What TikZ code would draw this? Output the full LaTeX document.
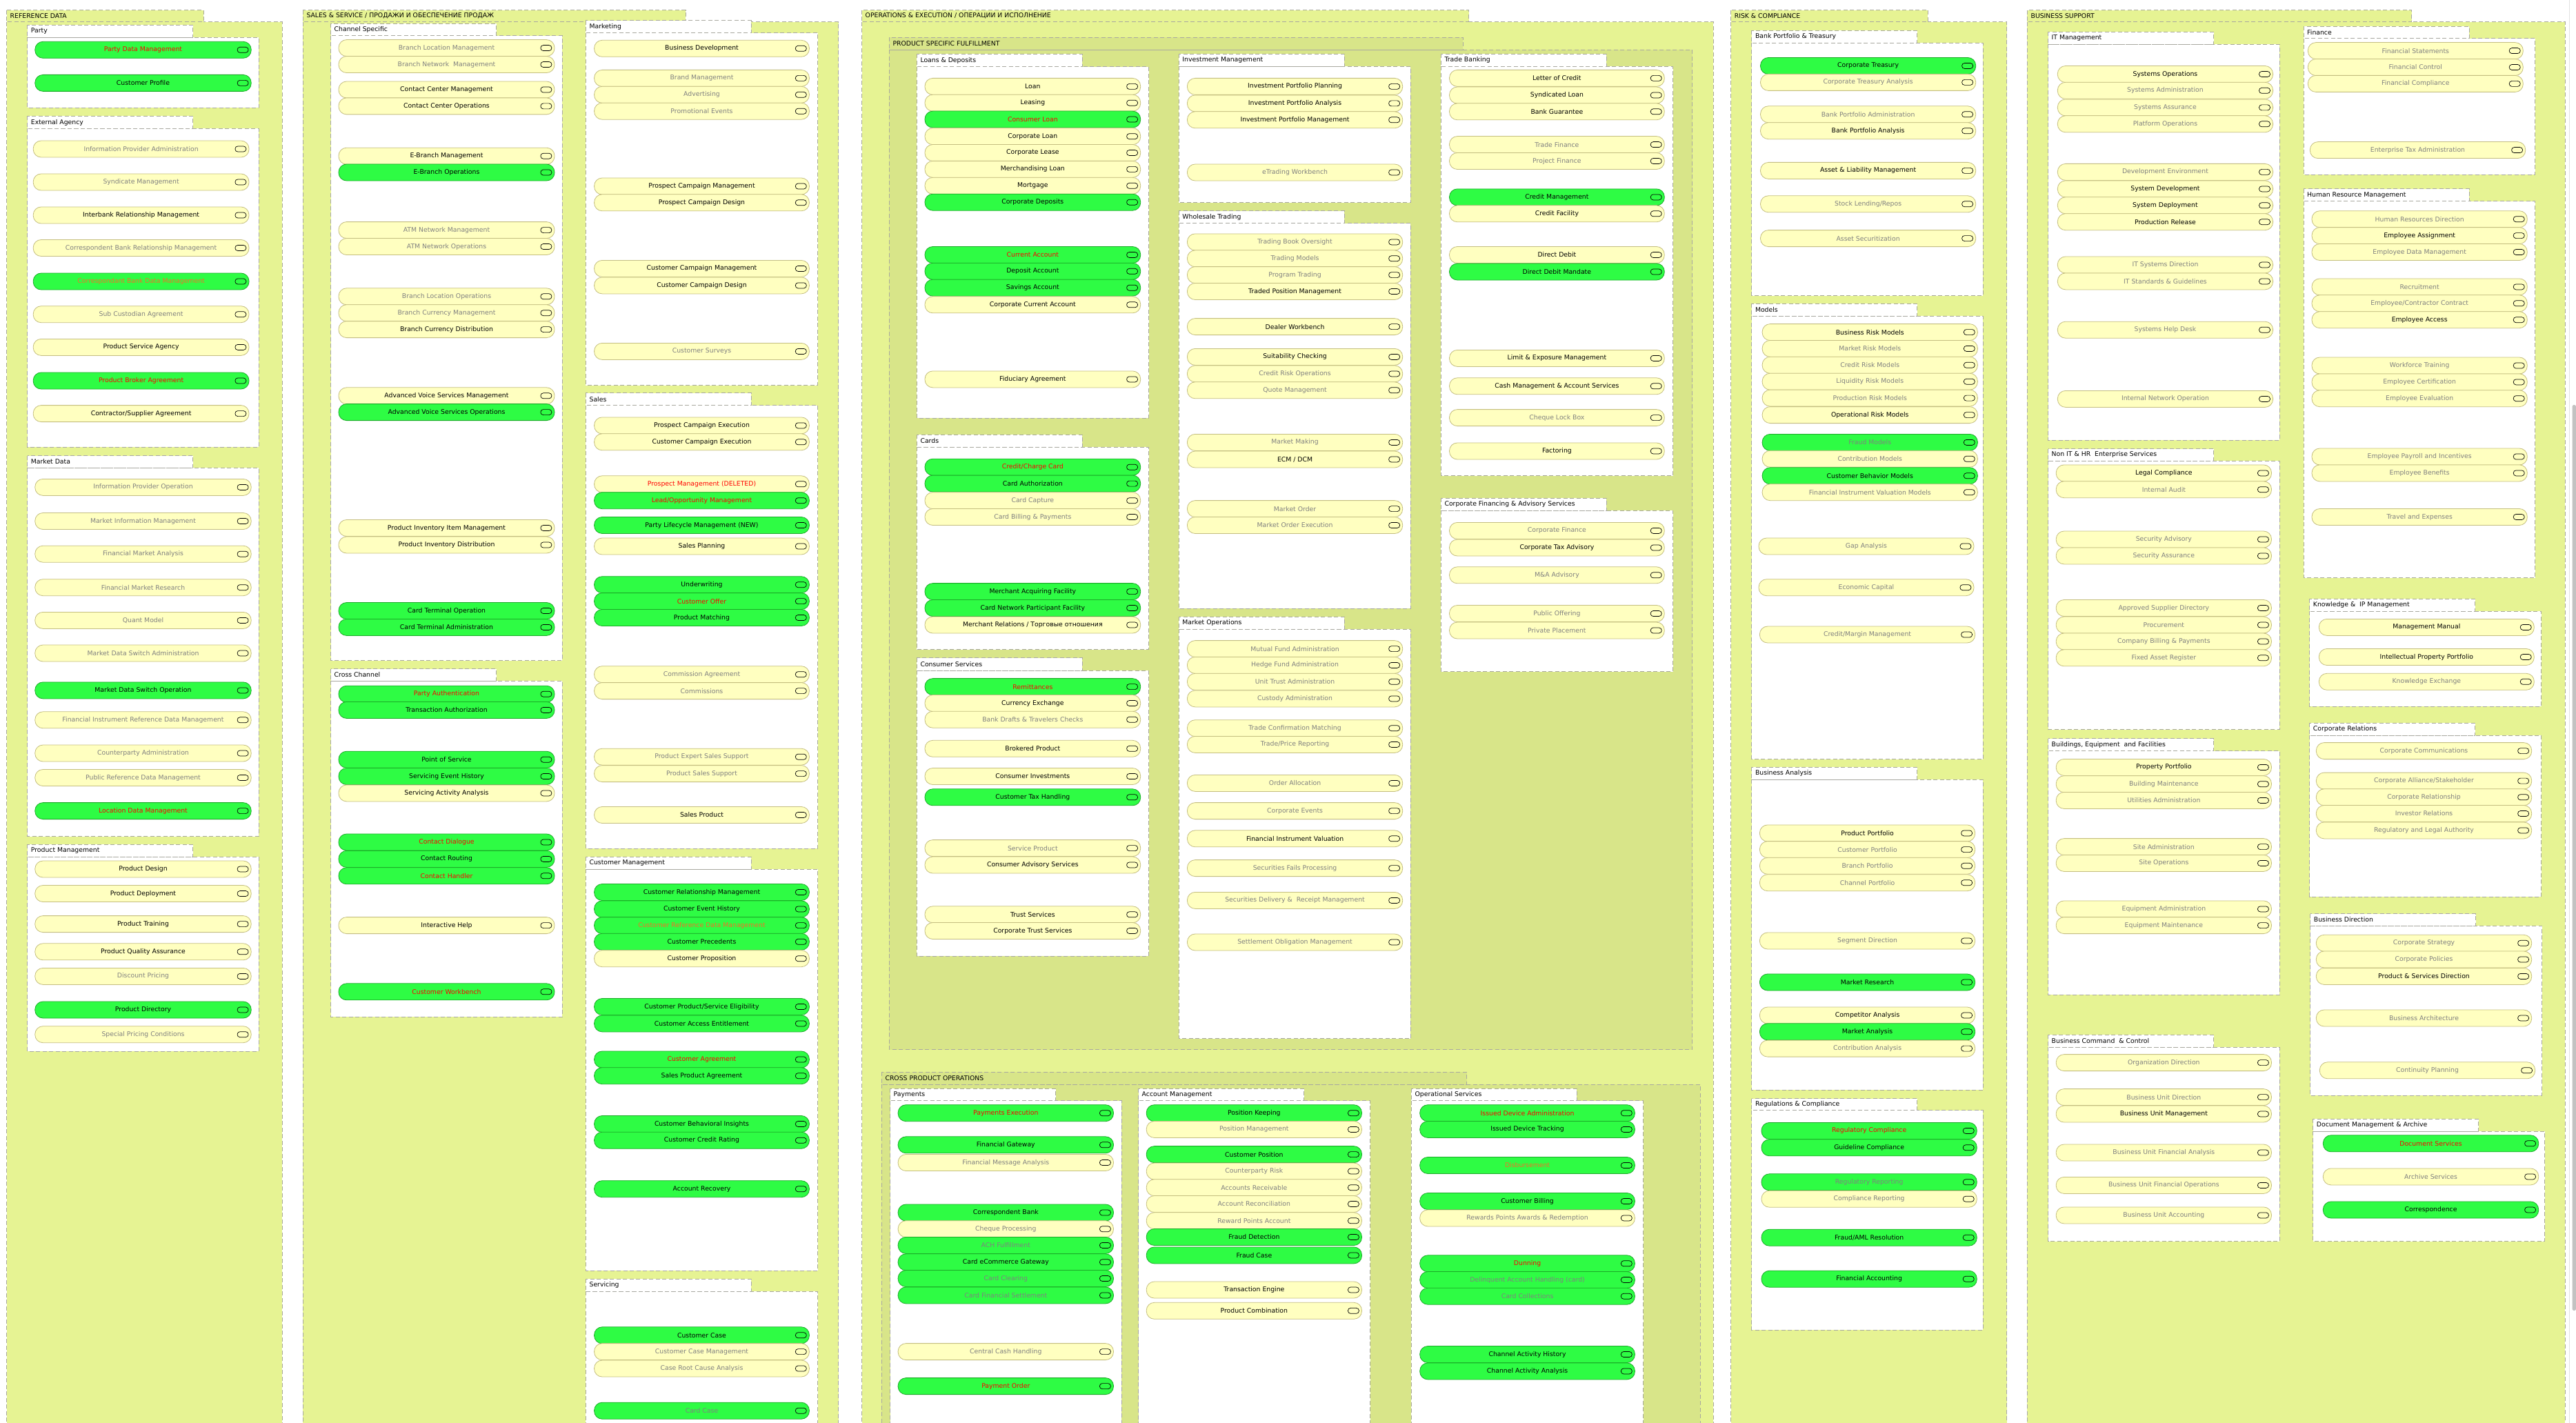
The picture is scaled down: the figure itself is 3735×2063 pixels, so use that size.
\documentclass[tikz,border=0pt]{standalone}
\usepackage{fontspec}
\setmainfont{DejaVu Sans}

\definecolor{grpfill}{RGB}{230,243,147}
\definecolor{subfill}{RGB}{216,229,137}
\definecolor{dashcol}{RGB}{168,168,160}
\definecolor{yfill}{RGB}{255,255,192}
\definecolor{yline}{RGB}{196,190,128}
\definecolor{gfill}{RGB}{46,252,68}
\definecolor{gline}{RGB}{28,170,40}
\definecolor{txtgray}{RGB}{128,128,128}
\definecolor{txtred}{RGB}{255,0,0}
\definecolor{txtorange}{RGB}{245,110,40}
\definecolor{scrollthumb}{RGB}{194,194,194}
\definecolor{scrolltrack}{RGB}{225,225,225}

\newcounter{fn}
\newcounter{pk}
\newcommand\labelfont{\fontsize{9.3}{11}\selectfont}

\tikzset{
  box/.style={draw=dashcol, line width=0.9pt, dash pattern=on 6pt off 3.5pt},
  boxtitle/.style={anchor=west, inner sep=0pt, font=\labelfont, text=black},
  func/.style={rectangle, rounded corners=11.5pt, line width=0.8pt,
               minimum height=24pt, inner sep=0pt, font=\labelfont},
  yk/.style={func, fill=yfill, draw=yline, text=black},
  yg/.style={func, fill=yfill, draw=yline, text=txtgray},
  yr/.style={func, fill=yfill, draw=yline, text=txtred},
  gk/.style={func, fill=gfill, draw=gline, text=black},
  gr/.style={func, fill=gfill, draw=gline, text=txtred},
  gg/.style={func, fill=gfill, draw=gline, text=txtgray},
  go/.style={func, fill=gfill, draw=gline, text=txtorange},
  icon/.style={draw=black, line width=0.7pt, rounded corners=3.8pt},
}

% package container: titled tab above a dashed body
% #1 left, #2 tab right, #3 right, #4 tab top, #5 tab bottom, #6 body bottom, #7 fill, #8 title
\newcommand\pkgbox[8]{%
  \stepcounter{pk}%
  \draw[box, fill=#7] (#1,#5) rectangle (#3,#6);
  \draw[box, fill=#7] (#1,#4) rectangle (#2,#5);
  \node[boxtitle] (pk\arabic{pk}) at ({#1+5},{(#4+#5)/2}) {#8};
}
% white sub-package with a 240 wide tab
% #1 left, #2 right, #3 tab top, #4 tab bottom, #5 body bottom, #6 title
\newcommand\subbox[6]{\pkgbox{#1}{#1+240}{#2}{#3}{#4}{#5}{white}{#6}}

% application function: rounded bar with the component glyph on its right end
\newcommand\setcols[2]{\def\cL{#1}\def\cR{#2}}
\newcommand\fitem[3]{%
  \stepcounter{fn}%
  \node[#2, minimum width={(\cR)-(\cL)}] (fn\arabic{fn}) at ({(\cL+\cR)/2},#1) {#3};
  \draw[icon] ([xshift=-20.5pt,yshift=-4pt]fn\arabic{fn}.east)
        rectangle ([xshift=-4.5pt,yshift=4pt]fn\arabic{fn}.east);
}

\begin{document}
\begin{tikzpicture}[x=1pt, y=-1pt]
\useasboundingbox (0,0) rectangle (3735,2063);
\clip (0,0) rectangle (3735,2063);
\fill[white] (0,0) rectangle (3735,2063);

% ---------------- REFERENCE DATA ----------------
\pkgbox{9.5}{295}{409}{14.6}{31.8}{2090}{grpfill}{REFERENCE DATA}
\subbox{39.7}{375}{36.5}{54.4}{156.5}{Party}
\setcols{50.8}{364.2}
\fitem{72.3}{gr}{Party Data Management}
\fitem{120.4}{gk}{Customer Profile}

\subbox{39.7}{375}{168.5}{186.4}{648}{External Agency}
\setcols{48.2}{361}
\fitem{216}{yg}{Information Provider Administration}
\fitem{264}{yg}{Syndicate Management}
\fitem{312}{yk}{Interbank Relationship Management}
\fitem{359.5}{yg}{Correspondent Bank Relationship Management}
\fitem{408}{go}{Correspondant Bank Data Management}
\fitem{455.7}{yg}{Sub Custodian Agreement}
\fitem{503.4}{yk}{Product Service Agency}
\fitem{552}{gr}{Product Broker Agreement}
\fitem{599.6}{yk}{Contractor/Supplier Agreement}

\subbox{39.7}{375}{660.6}{678}{1212.5}{Market Data}
\setcols{50.8}{364.2}
\fitem{706.4}{yg}{Information Provider Operation}
\fitem{755.5}{yg}{Market Information Management}
\fitem{803.2}{yg}{Financial Market Analysis}
\fitem{851.7}{yg}{Financial Market Research}
\fitem{899.4}{yg}{Quant Model}
\fitem{947}{yg}{Market Data Switch Administration}
\fitem{1000.9}{gk}{Market Data Switch Operation}
\fitem{1043.8}{yg}{Financial Instrument Reference Data Management}
\fitem{1092}{yg}{Counterparty Administration}
\fitem{1127.5}{yg}{Public Reference Data Management}
\fitem{1175.6}{gr}{Location Data Management}

\subbox{39.7}{375}{1224}{1242}{1524}{Product Management}
\fitem{1260}{yk}{Product Design}
\fitem{1295.5}{yk}{Product Deployment}
\fitem{1339.6}{yk}{Product Training}
\fitem{1379.8}{yk}{Product Quality Assurance}
\fitem{1415.4}{yg}{Discount Pricing}
\fitem{1464}{gk}{Product Directory}
\fitem{1499.7}{yg}{Special Pricing Conditions}

% ---------------- SALES & SERVICE ----------------
\pkgbox{439.3}{994}{1215.6}{14.6}{31.8}{2090}{grpfill}{SALES \& SERVICE / ПРОДАЖИ И ОБЕСПЕЧЕНИЕ ПРОДАЖ}
\subbox{479.5}{815}{34.5}{51.7}{957.8}{Channel Specific}
\setcols{491}{804}
\fitem{69.6}{yg}{Branch Location Management}
\fitem{93.5}{yg}{Branch Network\ \ Management}
\fitem{130}{yk}{Contact Center Management}
\fitem{153.9}{yk}{Contact Center Operations}
\fitem{226.2}{yk}{E-Branch Management}
\fitem{250}{gk}{E-Branch Operations}
\fitem{333.6}{yg}{ATM Network Management}
\fitem{357.5}{yg}{ATM Network Operations}
\fitem{429.8}{yg}{Branch Location Operations}
\fitem{453.7}{yg}{Branch Currency Management}
\fitem{477.6}{yk}{Branch Currency Distribution}
\fitem{573.8}{yk}{Advanced Voice Services Management}
\fitem{597.6}{gk}{Advanced Voice Services Operations}
\fitem{765.5}{yk}{Product Inventory Item Management}
\fitem{790}{yk}{Product Inventory Distribution}
\fitem{885.5}{gk}{Card Terminal Operation}
\fitem{909.4}{gk}{Card Terminal Administration}

\subbox{479.5}{815}{969.8}{987}{1474}{Cross Channel}
\fitem{1006.2}{gr}{Party Authentication}
\fitem{1029.4}{gk}{Transaction Authorization}
\fitem{1101.2}{gk}{Point of Service}
\fitem{1125.5}{gk}{Servicing Event History}
\fitem{1149.9}{yk}{Servicing Activity Analysis}
\fitem{1221}{gr}{Contact Dialogue}
\fitem{1245.4}{gk}{Contact Routing}
\fitem{1269.8}{gr}{Contact Handler}
\fitem{1341.6}{yk}{Interactive Help}
\fitem{1437.8}{gr}{Customer Workbench}

\subbox{849.4}{1185.6}{29.8}{47.8}{558.5}{Marketing}
\setcols{861.6}{1173.4}
\fitem{70.3}{yk}{Business Development}
\fitem{113.4}{yg}{Brand Management}
\fitem{137.3}{yg}{Advertising}
\fitem{161.2}{yg}{Promotional Events}
\fitem{270}{yk}{Prospect Campaign Management}
\fitem{293.8}{yk}{Prospect Campaign Design}
\fitem{389.4}{yk}{Customer Campaign Management}
\fitem{413.9}{yk}{Customer Campaign Design}
\fitem{509.4}{yg}{Customer Surveys}

\subbox{849.4}{1185.6}{569.8}{587.7}{1230.3}{Sales}
\fitem{616.9}{yk}{Prospect Campaign Execution}
\fitem{640.8}{yk}{Customer Campaign Execution}
\fitem{701.8}{yr}{Prospect Management (DELETED)}
\fitem{725.7}{gr}{Lead/Opportunity Management}
\fitem{761.5}{gk}{Party Lifecycle Management (NEW)}
\fitem{792}{yk}{Sales Planning}
\fitem{847.7}{gk}{Underwriting}
\fitem{871.6}{gr}{Customer Offer}
\fitem{895.5}{gk}{Product Matching}
\fitem{977.7}{yg}{Commission Agreement}
\fitem{1001.6}{yg}{Commissions}
\fitem{1097.2}{yg}{Product Expert Sales Support}
\fitem{1121.6}{yg}{Product Sales Support}
\fitem{1181.5}{yk}{Sales Product}

\subbox{849.4}{1185.6}{1242}{1260}{1842.3}{Customer Management}
\fitem{1293.5}{gk}{Customer Relationship Management}
\fitem{1317.9}{gk}{Customer Event History}
\fitem{1341.6}{go}{Customer Reference Data Management}
\fitem{1365.3}{gk}{Customer Precedents}
\fitem{1389.7}{yk}{Customer Proposition}
\fitem{1459.5}{gk}{Customer Product/Service Eligibility}
\fitem{1483.9}{gk}{Customer Access Entitlement}
\fitem{1536}{gr}{Customer Agreement}
\fitem{1559.7}{gk}{Sales Product Agreement}
\fitem{1629.5}{gk}{Customer Behavioral Insights}
\fitem{1653.2}{gk}{Customer Credit Rating}
\fitem{1723.7}{gk}{Account Recovery}

\subbox{849.4}{1185.6}{1854}{1872}{2090}{Servicing}
\fitem{1935.8}{gk}{Customer Case}
\fitem{1959.6}{yg}{Customer Case Management}
\fitem{1984}{yg}{Case Root Cause Analysis}
\fitem{2045.2}{gg}{Card Case}

% ---------------- OPERATIONS & EXECUTION ----------------
\pkgbox{1249.5}{2129.6}{2484}{14.6}{31.8}{2090}{grpfill}{OPERATIONS \& EXECUTION / ОПЕРАЦИИ И ИСПОЛНЕНИЕ}
\pkgbox{1289.3}{2121.4}{2453.6}{54.3}{72.3}{1521.5}{subfill}{PRODUCT SPECIFIC FULFILLMENT}

\subbox{1329.3}{1665.5}{78.3}{96.7}{606.3}{Loans \& Deposits}
\setcols{1341}{1653.7}
\fitem{125.4}{yk}{Loan}
\fitem{149.2}{yk}{Leasing}
\fitem{173.1}{gr}{Consumer Loan}
\fitem{197.7}{yk}{Corporate Loan}
\fitem{221.5}{yk}{Corporate Lease}
\fitem{245.4}{yk}{Merchandising Loan}
\fitem{269.3}{yk}{Mortgage}
\fitem{293.2}{gk}{Corporate Deposits}
\fitem{369.5}{gr}{Current Account}
\fitem{393.3}{gk}{Deposit Account}
\fitem{417.2}{gk}{Savings Account}
\fitem{441.8}{yk}{Corporate Current Account}
\fitem{549.9}{yk}{Fiduciary Agreement}

\subbox{1329.3}{1665.5}{630.1}{648}{941.9}{Cards}
\fitem{677.2}{gr}{Credit/Charge Card}
\fitem{701.1}{gk}{Card Authorization}
\fitem{725.7}{yg}{Card Capture}
\fitem{749.5}{yg}{Card Billing \& Payments}
\fitem{857.6}{gk}{Merchant Acquiring Facility}
\fitem{881.5}{gk}{Card Network Participant Facility}
\fitem{906}{yk}{Merchant Relations / Торговые отношения}

\subbox{1329.3}{1665.5}{953.8}{972.4}{1386.4}{Consumer Services}
\fitem{995.6}{gr}{Remittances}
\fitem{1019.5}{yk}{Currency Exchange}
\fitem{1043.2}{yg}{Bank Drafts \& Travelers Checks}
\fitem{1085.3}{yk}{Brokered Product}
\fitem{1125.5}{yk}{Consumer Investments}
\fitem{1155.8}{gk}{Customer Tax Handling}
\fitem{1229.6}{yg}{Service Product}
\fitem{1254}{yk}{Consumer Advisory Services}
\fitem{1325.8}{yk}{Trust Services}
\fitem{1349.5}{yk}{Corporate Trust Services}

\subbox{1709.2}{2045.4}{78.3}{96.2}{293.8}{Investment Management}
\setcols{1721.4}{2033.7}
\fitem{125.4}{yk}{Investment Portfolio Planning}
\fitem{149.9}{yk}{Investment Portfolio Analysis}
\fitem{173.8}{yk}{Investment Portfolio Management}
\fitem{250}{yg}{eTrading Workbench}

\subbox{1709.2}{2045.4}{305.8}{323.7}{882.2}{Wholesale Trading}
\fitem{350.9}{yg}{Trading Book Oversight}
\fitem{374.8}{yg}{Trading Models}
\fitem{398.6}{yg}{Program Trading}
\fitem{422.5}{yk}{Traded Position Management}
\fitem{473.6}{yk}{Dealer Workbench}
\fitem{517.4}{yk}{Suitability Checking}
\fitem{541.9}{yg}{Credit Risk Operations}
\fitem{565.8}{yg}{Quote Management}
\fitem{641.4}{yg}{Market Making}
\fitem{666}{yk}{ECM / DCM}
\fitem{737.6}{yg}{Market Order}
\fitem{761.5}{yg}{Market Order Execution}

\subbox{1709.2}{2045.4}{894.1}{912}{1505.7}{Market Operations}
\fitem{940.6}{yg}{Mutual Fund Administration}
\fitem{964.4}{yg}{Hedge Fund Administration}
\fitem{988.3}{yg}{Unit Trust Administration}
\fitem{1012.9}{yg}{Custody Administration}
\fitem{1055.7}{yg}{Trade Confirmation Matching}
\fitem{1079.4}{yg}{Trade/Price Reporting}
\fitem{1135.4}{yg}{Order Allocation}
\fitem{1175.6}{yg}{Corporate Events}
\fitem{1215.8}{yk}{Financial Instrument Valuation}
\fitem{1258.6}{yg}{Securities Fails Processing}
\fitem{1305.4}{yg}{Securities Delivery \&\ \ Receipt Management}
\fitem{1366}{yg}{Settlement Obligation Management}

\subbox{2089.3}{2425.5}{78.3}{96.2}{689.8}{Trade Banking}
\setcols{2101.5}{2413.3}
\fitem{113.4}{yk}{Letter of Credit}
\fitem{138}{yk}{Syndicated Loan}
\fitem{161.8}{yk}{Bank Guarantee}
\fitem{209.6}{yg}{Trade Finance}
\fitem{233.5}{yg}{Project Finance}
\fitem{285.9}{gk}{Credit Management}
\fitem{309.8}{yk}{Credit Facility}
\fitem{369.5}{yk}{Direct Debit}
\fitem{394}{gk}{Direct Debit Mandate}
\fitem{519.4}{yk}{Limit \& Exposure Management}
\fitem{559.8}{yk}{Cash Management \& Account Services}
\fitem{605.6}{yg}{Cheque Lock Box}
\fitem{654}{yk}{Factoring}

\subbox{2089.3}{2425.5}{722.3}{740.3}{973.7}{Corporate Financing \& Advisory Services}
\fitem{769.4}{yg}{Corporate Finance}
\fitem{794}{yk}{Corporate Tax Advisory}
\fitem{833.8}{yg}{M\&A Advisory}
\fitem{889.5}{yg}{Public Offering}
\fitem{914}{yg}{Private Placement}

\pkgbox{1278.3}{2126.5}{2465.3}{1554.4}{1572.2}{2090}{subfill}{CROSS PRODUCT OPERATIONS}

\subbox{1290.5}{1626.1}{1578.1}{1595.9}{2090}{Payments}
\setcols{1302.1}{1614.5}
\fitem{1613.7}{gr}{Payments Execution}
\fitem{1659.8}{gk}{Financial Gateway}
\fitem{1685.5}{yg}{Financial Message Analysis}
\fitem{1758}{gk}{Correspondent Bank}
\fitem{1781.7}{yg}{Cheque Processing}
\fitem{1805.4}{gg}{ACH Fulfillment}
\fitem{1829.8}{gk}{Card eCommerce Gateway}
\fitem{1853.5}{gg}{Card Clearing}
\fitem{1877.9}{gg}{Card Financial Settlement}
\fitem{1959.6}{yg}{Central Cash Handling}
\fitem{2009.6}{gr}{Payment Order}

\subbox{1650.5}{1986.7}{1578.1}{1595.9}{2090}{Account Management}
\setcols{1662.2}{1974.5}
\fitem{1613.7}{gk}{Position Keeping}
\fitem{1637.4}{yg}{Position Management}
\fitem{1673.6}{gk}{Customer Position}
\fitem{1698}{yg}{Counterparty Risk}
\fitem{1721.7}{yg}{Accounts Receivable}
\fitem{1745.5}{yg}{Account Reconciliation}
\fitem{1769.8}{yg}{Reward Points Account}
\fitem{1793.5}{gk}{Fraud Detection}
\fitem{1819.9}{gk}{Fraud Case}
\fitem{1870}{yk}{Transaction Engine}
\fitem{1900.3}{yk}{Product Combination}

\subbox{2046.4}{2382.6}{1578.1}{1595.9}{2090}{Operational Services}
\setcols{2058.7}{2370.4}
\fitem{1613.7}{gr}{Issued Device Administration}
\fitem{1637.4}{gk}{Issued Device Tracking}
\fitem{1689.5}{go}{Disbursement}
\fitem{1741.5}{gk}{Customer Billing}
\fitem{1765.9}{yg}{Rewards Points Awards \& Redemption}
\fitem{1831.8}{gr}{Dunning}
\fitem{1855.5}{gg}{Delinquent Account Handling (card)}
\fitem{1879.2}{gg}{Card Collections}
\fitem{1963.5}{gk}{Channel Activity History}
\fitem{1987.9}{gk}{Channel Activity Analysis}

% ---------------- RISK & COMPLIANCE ----------------
\pkgbox{2509.6}{2795.4}{2909.7}{14.6}{31.8}{2090}{grpfill}{RISK \& COMPLIANCE}
\subbox{2539.8}{2875.3}{44.4}{62.4}{428.5}{Bank Portfolio \& Treasury}
\setcols{2552.5}{2864.7}
\fitem{95.5}{gk}{Corporate Treasury}
\fitem{119.4}{yg}{Corporate Treasury Analysis}
\fitem{165.8}{yg}{Bank Portfolio Administration}
\fitem{189.7}{yk}{Bank Portfolio Analysis}
\fitem{247.4}{yk}{Asset \& Liability Management}
\fitem{295.8}{yg}{Stock Lending/Repos}
\fitem{345.6}{yg}{Asset Securitization}

\subbox{2539.8}{2875.3}{440.4}{458.3}{1100.5}{Models}
\setcols{2555.1}{2867.4}
\fitem{481.6}{yk}{Business Risk Models}
\fitem{505.4}{yg}{Market Risk Models}
\fitem{529.3}{yg}{Credit Risk Models}
\fitem{553.2}{yg}{Liquidity Risk Models}
\fitem{577.1}{yg}{Production Risk Models}
\fitem{601.6}{yk}{Operational Risk Models}
\fitem{641.4}{gg}{Fraud Models}
\fitem{665.3}{yg}{Contribution Models}
\fitem{689.8}{gk}{Customer Behavior Models}
\fitem{713.7}{yg}{Financial Instrument Valuation Models}
\setcols{2550}{2862}
\fitem{792}{yg}{Gap Analysis}
\fitem{851.7}{yg}{Economic Capital}
\setcols{2551.4}{2863.7}
\fitem{920}{yg}{Credit/Margin Management}

\subbox{2539.8}{2875.3}{1112.4}{1130.1}{1580.1}{Business Analysis}
\fitem{1207.9}{yk}{Product Portfolio}
\fitem{1231.6}{yg}{Customer Portfolio}
\fitem{1255.3}{yg}{Branch Portfolio}
\fitem{1279.7}{yg}{Channel Portfolio}
\fitem{1364}{yg}{Segment Direction}
\fitem{1424}{gk}{Market Research}
\fitem{1472}{yk}{Competitor Analysis}
\fitem{1495.8}{gk}{Market Analysis}
\fitem{1520.1}{yg}{Contribution Analysis}

\subbox{2539.8}{2875.3}{1592.6}{1609.7}{1928}{Regulations \& Compliance}
\setcols{2554}{2866.3}
\fitem{1639.4}{gr}{Regulatory Compliance}
\fitem{1663.8}{gk}{Guideline Compliance}
\fitem{1713.8}{gg}{Regulatory Reporting}
\fitem{1738.2}{yg}{Compliance Reporting}
\fitem{1794.2}{gk}{Fraud/AML Resolution}
\fitem{1854.2}{gk}{Financial Accounting}

% ---------------- BUSINESS SUPPORT ----------------
\pkgbox{2939.4}{3496.7}{3719.3}{14.6}{31.8}{2090}{grpfill}{BUSINESS SUPPORT}
\subbox{2969.5}{3305.1}{46.4}{64.3}{638.1}{IT Management}
\setcols{2983.3}{3295.6}
\fitem{107.5}{yk}{Systems Operations}
\fitem{131.3}{yg}{Systems Administration}
\fitem{155.9}{yg}{Systems Assurance}
\fitem{179.8}{yg}{Platform Operations}
\fitem{249.4}{yg}{Development Environment}
\fitem{273.9}{yk}{System Development}
\fitem{297.8}{yk}{System Deployment}
\fitem{321.7}{yk}{Production Release}
\fitem{384}{yg}{IT Systems Direction}
\fitem{407.9}{yg}{IT Standards \& Guidelines}
\fitem{478.2}{yg}{Systems Help Desk}
\fitem{578.4}{yg}{Internal Network Operation}

\subbox{2969.5}{3305.1}{650.7}{668}{1057.7}{Non IT \& HR\ \ Enterprise Services}
\setcols{2981.2}{3293.5}
\fitem{685.9}{yk}{Legal Compliance}
\fitem{709.7}{yg}{Internal Audit}
\fitem{782}{yg}{Security Advisory}
\fitem{805.9}{yg}{Security Assurance}
\fitem{881.5}{yg}{Approved Supplier Directory}
\fitem{906}{yg}{Procurement}
\fitem{930}{yg}{Company Billing \& Payments}
\fitem{953.8}{yg}{Fixed Asset Register}

\subbox{2969.5}{3305.1}{1070.8}{1088.6}{1442.4}{Buildings, Equipment\ \ and Facilities}
\fitem{1112.4}{yk}{Property Portfolio}
\fitem{1136.7}{yg}{Building Maintenance}
\fitem{1160.4}{yg}{Utilities Administration}
\fitem{1227.6}{yg}{Site Administration}
\fitem{1251.4}{yg}{Site Operations}
\fitem{1317.9}{yg}{Equipment Administration}
\fitem{1341.6}{yg}{Equipment Maintenance}

\subbox{2969.5}{3305.1}{1500.4}{1518.2}{1799.5}{Business Command\ \ \& Control}
\fitem{1540.6}{yg}{Organization Direction}
\fitem{1590.6}{yg}{Business Unit Direction}
\fitem{1615}{yk}{Business Unit Management}
\fitem{1671}{yg}{Business Unit Financial Analysis}
\fitem{1718.4}{yg}{Business Unit Financial Operations}
\fitem{1761.9}{yg}{Business Unit Accounting}

\subbox{3340}{3675.7}{38.5}{55.7}{253.4}{Finance}
\setcols{3346.3}{3658.3}
\fitem{73.6}{yg}{Financial Statements}
\fitem{97.5}{yg}{Financial Control}
\fitem{121.4}{yg}{Financial Compliance}
\setcols{3349.3}{3661.7}
\fitem{217.6}{yg}{Enterprise Tax Administration}

\subbox{3340}{3675.7}{273.9}{291.9}{837.8}{Human Resource Management}
\setcols{3352}{3664.3}
\fitem{317.7}{yg}{Human Resources Direction}
\fitem{341.6}{yk}{Employee Assignment}
\fitem{365.5}{yg}{Employee Data Management}
\fitem{415.9}{yg}{Recruitment}
\fitem{439.8}{yg}{Employee/Contractor Contract}
\fitem{463.7}{yk}{Employee Access}
\fitem{530}{yg}{Workforce Training}
\fitem{553.9}{yg}{Employee Certification}
\fitem{577.7}{yg}{Employee Evaluation}
\fitem{662}{yg}{Employee Payroll and Incentives}
\fitem{685.9}{yg}{Employee Benefits}
\fitem{749.5}{yg}{Travel and Expenses}

\subbox{3348.7}{3684.7}{868.3}{886.2}{1024.1}{Knowledge \&\ \ IP Management}
\setcols{3362.3}{3674.3}
\fitem{909.4}{yk}{Management Manual}
\fitem{952.5}{yk}{Intellectual Property Portfolio}
\fitem{988.3}{yg}{Knowledge Exchange}

\subbox{3348.7}{3684.7}{1048.4}{1066.2}{1300.1}{Corporate Relations}
\setcols{3358.3}{3670.7}
\fitem{1088.6}{yg}{Corporate Communications}
\fitem{1132.1}{yg}{Corporate Alliance/Stakeholder}
\fitem{1155.8}{yg}{Corporate Relationship}
\fitem{1179.5}{yg}{Investor Relations}
\fitem{1203.9}{yg}{Regulatory and Legal Authority}

\subbox{3349.7}{3685.7}{1324.5}{1342.3}{1588}{Business Direction}
\fitem{1367.3}{yg}{Corporate Strategy}
\fitem{1391}{yg}{Corporate Policies}
\fitem{1415.4}{yk}{Product \& Services Direction}
\fitem{1476}{yg}{Business Architecture}
\setcols{3363.3}{3675.7}
\fitem{1551.8}{yg}{Continuity Planning}

\subbox{3353.7}{3689.7}{1622.3}{1640}{1799.5}{Document Management \& Archive}
\setcols{3368.3}{3680.7}
\fitem{1657.8}{gr}{Document Services}
\fitem{1705.9}{yg}{Archive Services}
\fitem{1754}{gk}{Correspondence}

% window scroll bar on the right edge
\fill[scrolltrack] (3724.5,0) rectangle (3725.5,2063);
\fill[scrollthumb, rounded corners=2.5pt] (3729.5,587) rectangle (3735,1900);
\end{tikzpicture}
\end{document}
